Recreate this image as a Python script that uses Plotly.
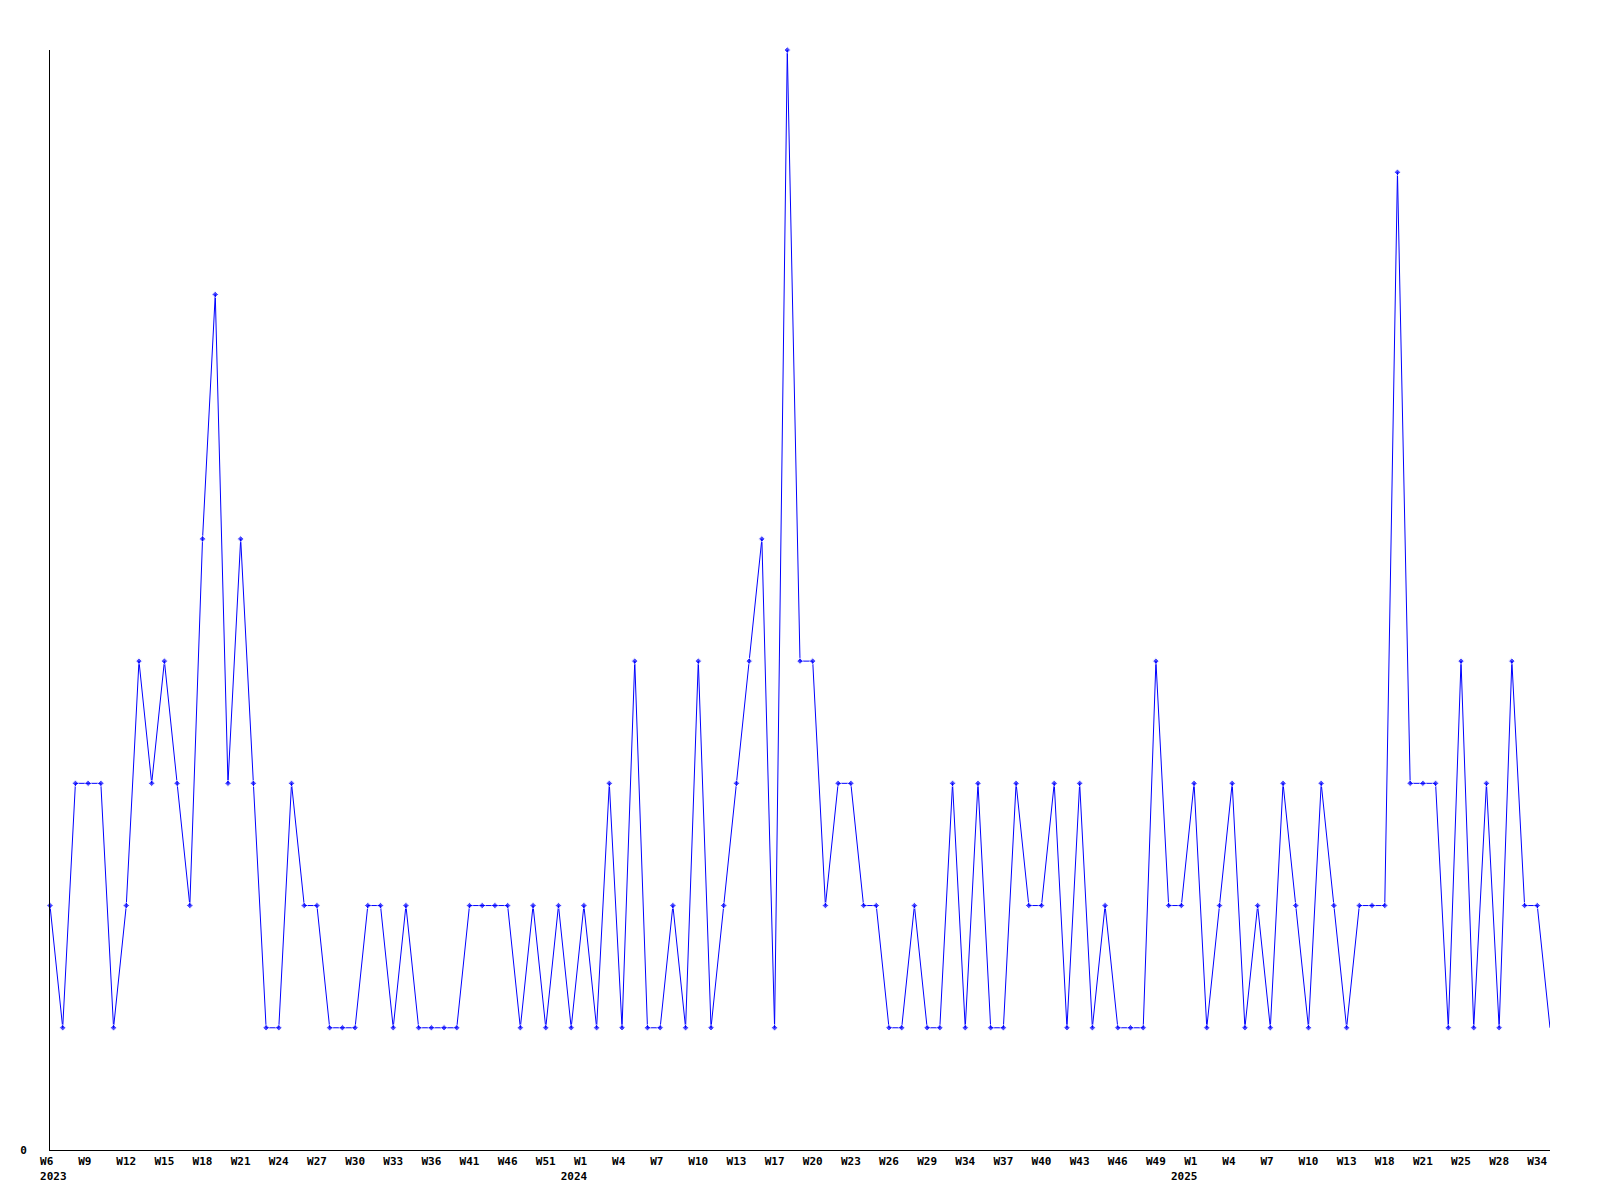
import plotly.graph_objects as go

# ISO-like week labels for each plotted point (2023 W6 .. 2025 W35)
years = [2023] * 42 + [2024] * 48 + [2025] * 29
weeks = (
    list(range(6, 37)) + [38, 39, 41, 43, 44, 46, 48, 50, 51, 52, 53]
    + list(range(1, 16)) + [17, 18, 19, 20, 21, 22, 23, 24, 25, 26, 27, 28, 29, 31, 32, 34, 35, 36,
                            37, 38, 39, 40, 41, 42, 43, 44, 45, 46, 47, 48, 49, 50, 52]
    + list(range(1, 14)) + [15, 16, 18, 19, 20, 21, 23, 24, 25, 26, 27, 28, 30, 32, 34, 35]
)

values = [
    2, 1, 3, 3, 3, 1, 2, 4, 3, 4, 3, 2, 5, 7, 3, 5, 3, 1, 1, 3,
    2, 2, 1, 1, 1, 2, 2, 1, 2, 1, 1, 1, 1, 2, 2, 2, 2, 1, 2, 1,
    2, 1, 2, 1, 3, 1, 4, 1, 1, 2, 1, 4, 1, 2, 3, 4, 5, 1, 9, 4,
    4, 2, 3, 3, 2, 2, 1, 1, 2, 1, 1, 3, 1, 3, 1, 1, 3, 2, 2, 3,
    1, 3, 1, 2, 1, 1, 1, 4, 2, 2, 3, 1, 2, 3, 1, 2, 1, 3, 2, 1,
    3, 2, 1, 2, 2, 2, 8, 3, 3, 3, 1, 4, 1, 3, 1, 4, 2, 2, 1,
]

categories = [f"{y}-W{w}" for y, w in zip(years, weeks)]

NB = "\u00a0"
# tick labels: every third point, year shown under the first label of each year
tick_idx = list(range(0, len(categories) - 1, 3))
tick_vals = [categories[i] for i in tick_idx]
tick_text = []
seen_years = set()
for i in tick_idx:
    lab = f"W{weeks[i]}"
    if len(lab) < 3:
        lab += NB
    if years[i] not in seen_years:
        first = not seen_years
        seen_years.add(years[i])
        ylab = (NB + str(years[i])) if first else (str(years[i]) + NB * 3)
        lab += "<br>" + ylab
    tick_text.append(lab)

marker_sizes = [5] * (len(values) - 1) + [0]

fig = go.Figure()
fig.add_trace(go.Scatter(
    x=categories, y=values, mode="lines+markers",
    line=dict(color="#0000ff", width=1),
    marker=dict(symbol="diamond", size=marker_sizes, color="#0000ff"),
    cliponaxis=False, showlegend=False,
))

font = dict(family="DejaVu Sans Mono", size=11, color="black", weight="bold")

fig.update_layout(
    width=1584, height=1184,
    margin=dict(l=42, r=42, t=42, b=42),
    paper_bgcolor="white", plot_bgcolor="white",
    font=font,
    xaxis=dict(
        type="category", range=[0, len(categories) - 1],
        tickmode="array", tickvals=tick_vals, ticktext=tick_text,
        tickangle=0, automargin=False,
        showline=True, linecolor="black", linewidth=1,
        showgrid=False, zeroline=False, ticks="",
        ticklabelstandoff=1, tickfont=font,
    ),
    yaxis=dict(
        range=[0, 9], tickmode="array", tickvals=[0], ticktext=["0"],
        automargin=False,
        showline=True, linecolor="black", linewidth=1,
        showgrid=False, zeroline=False, ticks="",
        ticklabelstandoff=20, tickfont=font,
    ),
)

fig.write_html("out.html")
